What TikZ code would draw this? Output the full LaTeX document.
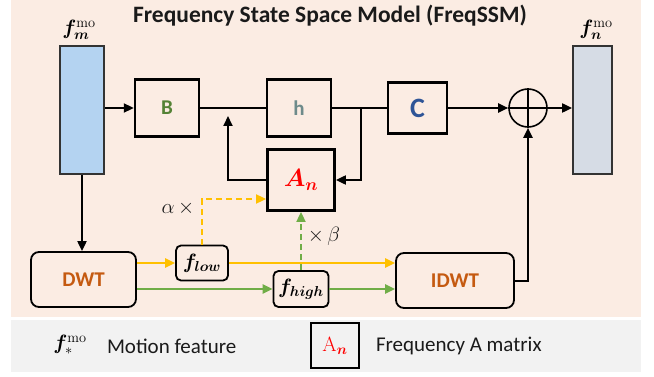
\documentclass[tikz,border=0pt]{standalone}
\usepackage[no-math]{fontspec}
\setmainfont{Carlito}
\usepackage{bm}
\usetikzlibrary{arrows.meta,positioning,calc}
\definecolor{bgpeach}{HTML}{FBECE3}
\definecolor{legendgray}{HTML}{F2F2F2}
\definecolor{featblue}{HTML}{B4D3F1}
\definecolor{featgray}{HTML}{D6DCE5}
\definecolor{featedge}{HTML}{333333}
\definecolor{lowyellow}{HTML}{FFC000}
\definecolor{highgreen}{HTML}{70AD47}
\definecolor{bgreen}{HTML}{548235}
\definecolor{hgray}{HTML}{6E8B8B}
\definecolor{cblue}{HTML}{2F5597}
\definecolor{dwtorange}{HTML}{C55A11}
\definecolor{textgray}{HTML}{1A1A1A}

\begin{document}
\begin{tikzpicture}[
  x=1pt, y=-1pt,
  >={Triangle[length=10pt,width=9pt]},
  line width=2pt,
  block/.style={rectangle, draw=black, line width=2.4pt, inner sep=0pt, font=\fontsize{21}{25}\selectfont\bfseries},
  wave/.style={rectangle, draw=black, rounded corners=8pt, line width=1.8pt, inner sep=0pt, font=\fontsize{21}{25}\selectfont\bfseries\color{dwtorange}},
  band/.style={rectangle, draw=black, rounded corners=5pt, line width=1.8pt, inner sep=0pt, font=\fontsize{20}{24}\selectfont},
  feat/.style={rectangle, draw=featedge, line width=1.8pt, minimum width=44pt, minimum height=128pt},
  lbl/.style={font=\fontsize{20}{24}\selectfont, inner sep=0pt},
  flow/.style={->, draw=black},
  lowflow/.style={->, draw=lowyellow, line width=2.2pt},
  highflow/.style={->, draw=highgreen, line width=2.2pt},
  scaled/.style={line width=1.8pt, dash pattern=on 6pt off 4pt}
]
  \useasboundingbox (0,0) rectangle (654,377);
  \fill[bgpeach] (11,0) rectangle (641,317);
  \fill[legendgray] (11,320) rectangle (641,372);

  \node[font=\fontsize{23.5}{28}\selectfont\bfseries, text=textgray] (title) at (330,16) {Frequency State Space Model (FreqSSM)};

  % features in and out
  \node[feat, fill=featblue] (fin) at (82,110) {};
  \node[lbl] (finlbl) at (79,30) {$\bm{f}_{\bm{m}}^{\mathrm{mo}}$};
  \node[feat, fill=featgray, minimum width=39pt] (fout) at (592.5,110) {};
  \node[lbl] (foutlbl) at (596,30) {$\bm{f}_{\bm{n}}^{\mathrm{mo}}$};

  % state space blocks
  \node[block, minimum width=64pt, minimum height=57pt, text=bgreen] (B) at (167,108) {B};
  \node[block, minimum width=64pt, minimum height=57pt, text=hgray] (h) at (299,108) {h};
  \node[block, minimum width=59pt, minimum height=51pt, text=cblue, font=\fontsize{28}{32}\selectfont\bfseries] (C) at (417.5,108) {C};
  \node[block, line width=2.8pt, minimum width=67pt, minimum height=61pt, text=red, font=\fontsize{24}{28}\selectfont] (An) at (301,180) {$\bm{A_n}$};
  \node[circle, draw=black, line width=1.6pt, minimum size=38pt, inner sep=0pt] (plus) at (528,108) {};
  \draw[line width=1.6pt] (plus.north) -- (plus.south) (plus.west) -- (plus.east);

  % wavelet branch
  \node[wave, minimum width=105pt, minimum height=55pt] (dwt) at (83.5,279.5) {DWT};
  \node[wave, minimum width=118pt, minimum height=55pt] (idwt) at (455,280.5) {IDWT};
  \node[band, minimum width=52pt, minimum height=35pt] (flow) at (202,263) {$\bm{f_{low}}$};
  \node[band, minimum width=55pt, minimum height=36pt] (fhigh) at (301,289) {$\bm{f_{high}}$};
  \node[lbl, text=textgray] (alpha) at (178,208) {$\alpha\,\times$};
  \node[lbl, text=textgray] (beta) at (324,236) {$\times\,\beta$};

  \coordinate (join) at (228,116);
  \coordinate (split) at (361,108);

  \draw[flow] (B.west -| fin.east) -- (B.west);
  \draw (B.east) -- (h.west);
  \draw[flow] (An.west) -| (join);
  \draw (h.east) -- (C.west);
  \draw[flow] (split) |- (An.east);
  \draw[flow] (C.east) -- (plus.west);
  \draw[flow] (plus.east) -- (fout.west |- plus.east);
  \draw[flow] (fin.south) -- (dwt.north -| fin.south);
  \draw[flow] (idwt.east) -| (plus.south);

  \draw[lowflow] (dwt.east |- flow.west) -- (flow.west);
  \draw[lowflow] (flow.east) -- (idwt.west |- flow.east);
  \draw[highflow] (dwt.east |- fhigh.west) -- (fhigh.west);
  \draw[highflow] (fhigh.east) -- (idwt.west |- fhigh.east);
  \draw[lowflow, scaled] (flow.north) |- ([yshift=-19pt]An.west);
  \draw[highflow, scaled] (fhigh.north) -- (An.south);

  % legend
  \node[lbl] (legf) at (70,345) {$\bm{f}_{*}^{\mathrm{mo}}$};
  \node[lbl, anchor=west, text=textgray, font=\fontsize{21}{25}\selectfont] (legftext) at (106,346) {Motion feature};
  \node[block, line width=2.8pt, minimum width=48pt, minimum height=45pt, text=red, font=\fontsize{22}{26}\selectfont] (legA) at (335,345.5) {$\mathrm{A}_{\bm{n}}$};
  \node[lbl, anchor=west, text=textgray, font=\fontsize{21}{25}\selectfont] (legAtext) at (375,346) {Frequency A matrix};
\end{tikzpicture}
\end{document}
